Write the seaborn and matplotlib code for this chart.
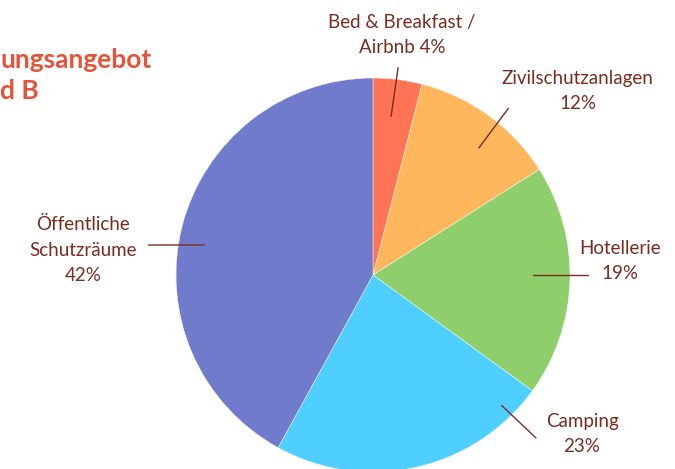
import matplotlib
matplotlib.use('Agg')
import matplotlib.pyplot as plt
import seaborn as sns
import numpy as np

# Daten
kategorien = ['Bed & Breakfast /\nAirbnb', 'Zivilschutzanlagen', 'Hotellerie', 'Camping', 'Öffentliche\nSchutzräume']
anteile = [4, 12, 19, 23, 42]
farben = ['#FF7456', '#FFB75E', '#8ECF6C', '#4FCFFF', '#717BCB']
# Titel ist im Original links abgeschnitten, nur der sichtbare Teil
titel_zeilen = ['ungsangebot', 'd B']

# Führungslinien: (Winkel, Radius) für Start und Ende, Textmitte in Radius-Einheiten
linie_start = [(83.5, 0.81), (50.2, 0.84), (0, 0.81), (-45.4, 0.93), (169.9, 0.87)]
linie_ende = [(83.1, 1.06), (50.9, 1.09), (0, 1.09), (-45.0, 1.17), (172.4, 1.15)]
text_pos = [(0.147, 1.218), (1.04, 0.934), (1.254, 0.071), (1.061, -0.807), (-1.472, 0.127)]

sns.set_theme(style='white')
plt.rcParams['font.family'] = ['Lato', 'DejaVu Sans']

W, H = 675, 469
cx, cy, r = 373, 275, 197
fig = plt.figure(figsize=(W / 100, H / 100), dpi=100)
ax = fig.add_axes([0, 0, 1, 1])

ax.pie(anteile, colors=farben, startangle=90, counterclock=False,
       radius=1, center=(0, 0), frame=True,
       wedgeprops=dict(linewidth=0.3, edgecolor='white'))
ax.set_xlim(-cx / r, (W - cx) / r)
ax.set_ylim(-(H - cy) / r, cy / r)
ax.axis('off')


def pol(p):
    a = np.deg2rad(p[0])
    return p[1] * np.cos(a), p[1] * np.sin(a)


textfarbe = '#7A2C1F'
for name, wert, s, e, (tx, ty) in zip(kategorien, anteile, linie_start, linie_ende, text_pos):
    x0, y0 = pol(s)
    x1, y1 = pol(e)
    ax.plot([x0, x1], [y0, y1], color=textfarbe, lw=1)
    if name.startswith('Bed'):
        text = f'{name} {wert}%'
    else:
        text = f'{name}\n{wert}%'
    ax.text(tx, ty, text, ha='center', va='center', fontsize=13.5,
            color=textfarbe, linespacing=1.6)

fig.text(0, 1 - 60 / H, titel_zeilen[0], ha='left', va='center',
         fontsize=19, fontweight='bold', color='#E5533A')
fig.text(0, 1 - 91 / H, titel_zeilen[1], ha='left', va='center',
         fontsize=19, fontweight='bold', color='#E5533A')

fig.savefig('out.png', dpi=100, facecolor='white')
